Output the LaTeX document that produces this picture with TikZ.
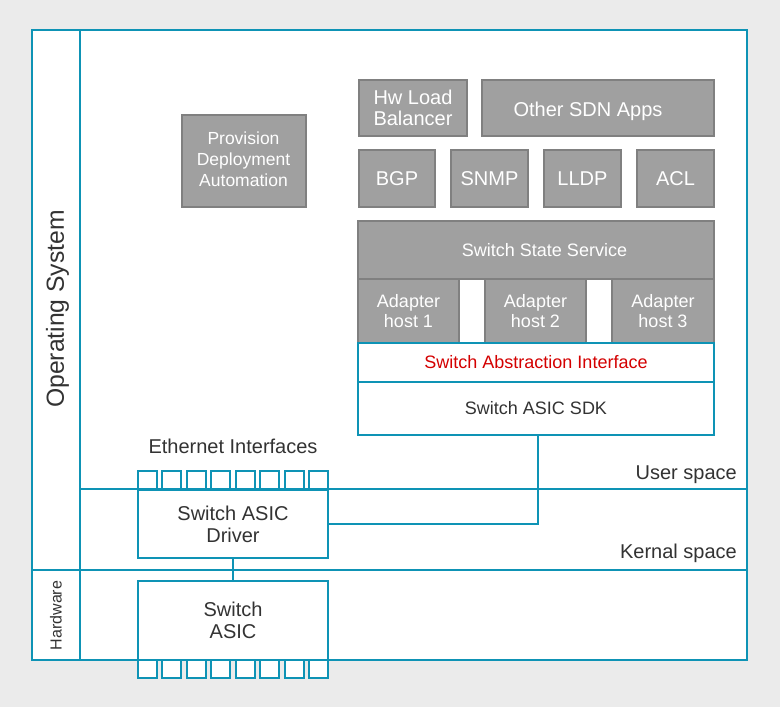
\documentclass[tikz,border=0pt]{standalone}
\usepackage{fontspec}
\setmainfont{Liberation Sans}
\definecolor{pagegray}{HTML}{EBEBEB}
\definecolor{boxgray}{HTML}{A0A0A0}
\definecolor{edgegray}{HTML}{808080}
\definecolor{lineteal}{HTML}{0E93B5}
\definecolor{inkgray}{HTML}{333333}
\definecolor{inkred}{HTML}{D40000}
\tikzset{
  appbox/.style={draw=edgegray, fill=boxgray, text=white, line width=1.8pt, inner sep=0, outer sep=0, align=center},
  whitebox/.style={draw=lineteal, fill=white, text=inkgray, line width=1.8pt, inner sep=0, outer sep=0, align=center},
  portbox/.style={draw=lineteal, fill=white, line width=1.8pt, inner sep=0, outer sep=0, minimum width=19, minimum height=18},
  caption/.style={text=inkgray, inner sep=0},
  boxlabel/.style={text=white, inner sep=0, align=center}
}
\begin{document}
\begin{tikzpicture}[x=1pt, y=-1pt]
\useasboundingbox (0,0) rectangle (780,707);
\fill[pagegray] (0,0) rectangle (780,707);
% frame
\draw[lineteal, fill=white, line width=1.8pt] (32,30) rectangle (747,660);
\draw[lineteal, line width=1.8pt] (80,30)--(80,660);
\draw[lineteal, line width=1.8pt] (32,570)--(747,570);
\draw[lineteal, line width=1.8pt] (80,489)--(747,489);
% ports
\foreach \x [count=\i] in {147.5,171.5,196.5,220.5,245.5,269.5,294.5,318.5} {
 \node[portbox] (portup\i) at (\x,480) {};
 \node[portbox] (portdown\i) at (\x,669) {};
}
% apps
\node[appbox, minimum width=124, minimum height=92, label={[boxlabel, yshift=2, xshift=-0.5, font=\fontsize{17.5}{21}\selectfont]center:Provision\\Deployment\\Automation}] (provision) at (244,161) {};
\node[appbox, minimum width=108, minimum height=56, font=\fontsize{20}{21}\selectfont] (hwlb) at (413,108) {Hw Load\\Balancer};
\node[appbox, minimum width=232, minimum height=56, label={[boxlabel, xshift=-10, yshift=-3, font=\fontsize{20}{24}\selectfont]center:Other SDN Apps}] (otherapps) at (598,108) {};
\node[appbox, minimum width=76, minimum height=57, font=\fontsize{20}{24}\selectfont] (bgp) at (397,178.5) {BGP};
\node[appbox, minimum width=77, minimum height=57, font=\fontsize{20}{24}\selectfont] (snmp) at (489.5,178.5) {SNMP};
\node[appbox, minimum width=77, minimum height=57, font=\fontsize{20}{24}\selectfont] (lldp) at (582.5,178.5) {LLDP};
\node[appbox, minimum width=77, minimum height=57, font=\fontsize{20}{24}\selectfont] (acl) at (675.5,178.5) {ACL};
\node[appbox, minimum width=356, minimum height=58, label={[boxlabel, xshift=8.5, yshift=-0.5, font=\fontsize{18}{21}\selectfont]center:Switch State Service}] (sss) at (536,250) {};
\node[appbox, minimum width=101, minimum height=64, font=\fontsize{18}{20}\selectfont] (adapter1) at (408.5,311) {Adapter\\host 1};
\node[appbox, minimum width=101, minimum height=64, font=\fontsize{18}{20}\selectfont] (adapter2) at (535.5,311) {Adapter\\host 2};
\node[appbox, minimum width=102, minimum height=64, font=\fontsize{18}{20}\selectfont] (adapter3) at (663,311) {Adapter\\host 3};
% switch stack
\node[whitebox, minimum width=356, minimum height=39, text=inkred, font=\fontsize{18}{21}\selectfont] (sai) at (536,362.5) {Switch Abstraction Interface};
\node[whitebox, minimum width=356, minimum height=53, font=\fontsize{18}{21}\selectfont] (sdk) at (536,408.5) {Switch ASIC SDK};
\node[whitebox, minimum width=190, minimum height=68, font=\fontsize{20}{22}\selectfont] (driver) at (233,524) {Switch ASIC\\Driver};
\node[whitebox, minimum width=190, minimum height=79, font=\fontsize{20}{22}\selectfont] (asic) at (233,620.5) {Switch\\ASIC};
% connectors
\draw[lineteal, line width=1.8pt] (driver.south)--(asic.north);
\draw[lineteal, line width=1.8pt] (driver.east)-|([xshift=2]sdk.south);
% captions
\node[caption, font=\fontsize{24.7}{28}\selectfont, rotate=90] (oslabel) at (57.5,309) {Operating System};
\node[caption, font=\fontsize{16}{18}\selectfont, rotate=90] (hwlabel) at (56,615.5) {Hardware};
\node[caption, font=\fontsize{20}{24}\selectfont] (ethlabel) at (233,446) {Ethernet Interfaces};
\node[caption, font=\fontsize{20}{24}\selectfont, anchor=east] (userlabel) at (737,474.5) {User space};
\node[caption, font=\fontsize{20}{24}\selectfont, anchor=east] (kernlabel) at (737,553.5) {Kernal space};
\end{tikzpicture}
\end{document}
